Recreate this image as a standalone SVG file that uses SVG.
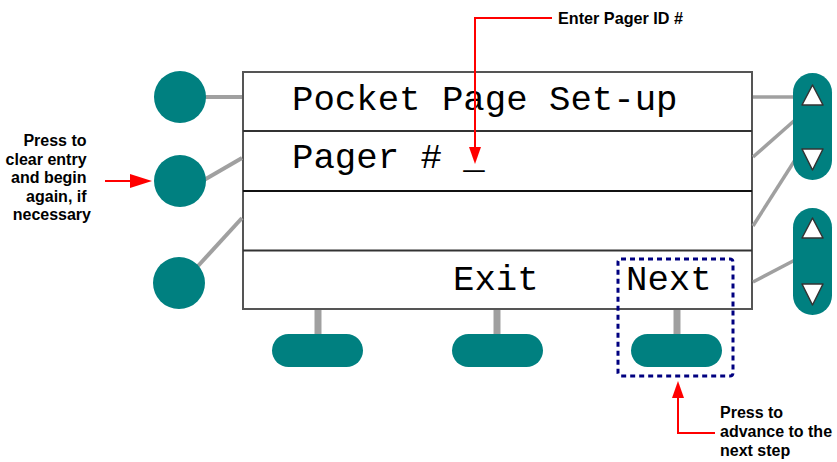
<svg xmlns="http://www.w3.org/2000/svg" width="837" height="462" viewBox="0 0 837 462">
<style>
.btn{fill:#008080}
.wire{stroke:#a0a0a0;stroke-width:4;fill:none}
.stem{stroke:#a0a0a0;stroke-width:7;fill:none}
.tri{fill:#fff;stroke:#333;stroke-width:1.5;stroke-linejoin:round}
.lcd{font-family:"Liberation Mono","Courier New",monospace;font-size:35.7px;fill:#000}
.note{font-family:"Liberation Sans",Arial,sans-serif;font-weight:bold;font-size:16px;fill:#000}
.red{stroke:#ff0000;stroke-width:2;fill:none}
.head{fill:#ff0000}
</style>
<rect width="837" height="462" fill="#fff"/>
<g id="display">
  <rect x="243" y="72" width="509" height="237" fill="#fff" stroke="#555" stroke-width="2"/>
  <line x1="243" y1="131" x2="752" y2="131" stroke="#333" stroke-width="1.8"/>
  <line x1="243" y1="191" x2="752" y2="191" stroke="#111" stroke-width="1.8"/>
  <line x1="243" y1="250.5" x2="752" y2="250.5" stroke="#333" stroke-width="1.8"/>
  <text class="lcd" x="292" y="110">Pocket Page Set-up</text>
  <text class="lcd" x="292" y="168">Pager # _</text>
  <text class="lcd" x="453" y="290">Exit</text>
  <text class="lcd" x="626" y="290">Next</text>
</g>
<g id="connectors">
  <line class="wire" x1="204" y1="97" x2="242" y2="97"/>
  <line class="wire" x1="204" y1="180" x2="242" y2="158"/>
  <line class="wire" x1="198" y1="266" x2="242" y2="218"/>
  <line class="wire" x1="753" y1="97" x2="795" y2="97" style="stroke-width:3.5"/>
  <line class="wire" x1="753" y1="157" x2="795" y2="120" style="stroke-width:3.5"/>
  <line class="wire" x1="753" y1="226" x2="795" y2="160" style="stroke-width:3.5"/>
  <line class="wire" x1="753" y1="282" x2="795" y2="260" style="stroke-width:3.5"/>
  <line class="stem" x1="318" y1="310" x2="318" y2="336"/>
  <line class="stem" x1="497" y1="310" x2="497" y2="336"/>
  <line class="stem" x1="677" y1="310" x2="677" y2="336"/>
  <polyline class="red" points="552,18 475,18 475,150"/>
  <polygon class="head" points="469,147 481,147 475,164"/>
  <line class="red" x1="105" y1="181" x2="133" y2="181"/>
  <polygon class="head" points="130,174 130,188 152,181"/>
  <polyline class="red" points="715,433 678,433 678,395"/>
  <polygon class="head" points="672,398 684,398 678,381"/>
</g>
<g id="left-buttons">
  <circle class="btn" cx="180" cy="97" r="26"/>
  <circle class="btn" cx="180" cy="181" r="26"/>
  <circle class="btn" cx="179" cy="283" r="26"/>
</g>
<g id="bottom-buttons">
  <rect class="btn" x="272" y="334" width="91" height="33" rx="16.5"/>
  <rect class="btn" x="452" y="334" width="91" height="33" rx="16.5"/>
  <rect class="btn" x="631" y="334" width="91" height="33" rx="16.5"/>
</g>
<g id="right-buttons">
  <rect class="btn" x="793" y="73" width="39" height="107" rx="19.5"/>
  <polygon class="tri" points="812.5,85 823,105 802,105"/>
  <polygon class="tri" points="802,149 823,149 812.5,170"/>
  <rect class="btn" x="793" y="208" width="39" height="107" rx="19.5"/>
  <polygon class="tri" points="812.5,218 823,238 802,238"/>
  <polygon class="tri" points="802,284 823,284 812.5,305"/>
</g>
<g id="next-highlight">
  <rect x="618" y="259" width="115" height="117" rx="3" fill="none" stroke="#000080" stroke-width="3" stroke-dasharray="5,4"/>
</g>
<g id="notes">
  <text class="note" x="558" y="24" textLength="125" lengthAdjust="spacingAndGlyphs" style="font-size:17px">Enter Pager ID #</text>
  <text class="note" text-anchor="end">
    <tspan x="91" y="146">Press to</tspan>
    <tspan x="91" y="164.5">clear entry</tspan>
    <tspan x="91" y="183">and begin</tspan>
    <tspan x="91" y="201.5">again, if</tspan>
    <tspan x="91" y="220">necessary</tspan>
  </text>
  <text class="note">
    <tspan x="720" y="418">Press to</tspan>
    <tspan x="720" y="437">advance to the</tspan>
    <tspan x="720" y="456">next step</tspan>
  </text>
</g>
</svg>
